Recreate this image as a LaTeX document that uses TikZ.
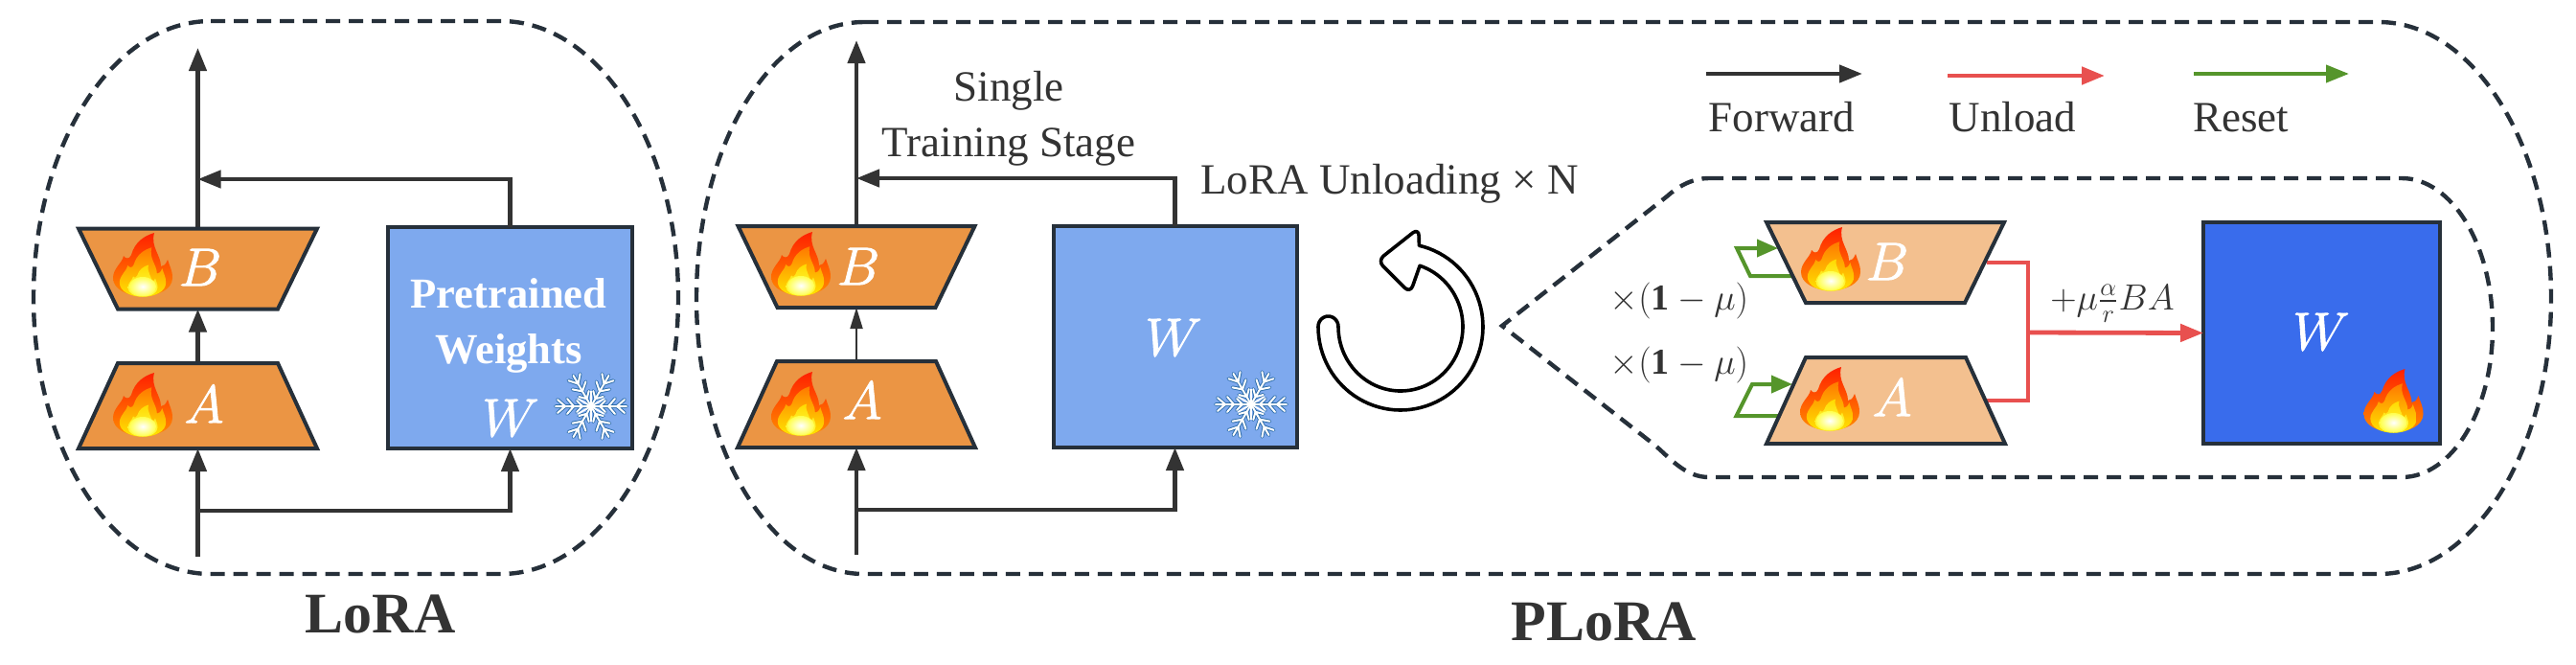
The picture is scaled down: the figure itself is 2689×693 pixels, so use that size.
\RequirePackage{fix-cm}
\documentclass[tikz,border=0pt]{standalone}
\usepackage{amsmath}
\usepackage{fontspec}
\setmainfont{Liberation Serif}
\usetikzlibrary{arrows.meta,calc}
\definecolor{ink}{HTML}{333333}
\definecolor{edge}{HTML}{26303A}
\definecolor{orng}{HTML}{EB9544}
\definecolor{peach}{HTML}{F3C08F}
\definecolor{sky}{HTML}{7EA9EE}
\definecolor{royal}{HTML}{396CEC}
\definecolor{redl}{HTML}{E8504F}
\definecolor{grn}{HTML}{55952B}
\definecolor{flakeb}{HTML}{2A6BA8}
\newcommand{\flamepath}{(12,-33) .. controls (2,-30) and (-8,-24) .. (-12,-10) .. controls (-14,-5) and (-18,-6) .. (-20,-9) .. controls (-21,-2) and (-31,4) .. (-31,14) .. controls (-31,26) and (-16,33) .. (0,33) .. controls (16,33) and (31,26) .. (31,14) .. controls (31,6) and (28,2) .. (26,-5) .. controls (24,0) and (22,2) .. (19,2) .. controls (19,-10) and (8,-18) .. (12,-33) -- cycle}
\newcommand{\trapup}[2]{\path[trap,fill=#2] ([xshift=20.5pt]#1.north west) -- ([xshift=-20.5pt]#1.north east) -- (#1.south east) -- (#1.south west) -- cycle;}
\newcommand{\trapdown}[2]{\path[trap,fill=#2] (#1.north west) -- (#1.north east) -- ([xshift=-20.5pt]#1.south east) -- ([xshift=20.5pt]#1.south west) -- cycle;}
\newcommand{\strk}[1]{\special{pdf:code q 1 1 1 RG 0.45 w 2 Tr}#1\special{pdf:code 0 Tr Q}}
\tikzset{
  px/.style={x=0.5pt,y=-0.5pt},
  anchorbox/.style={rectangle,inner sep=0pt,outer sep=0pt},
  trap/.style={draw=edge,line width=2pt},
  sqbox/.style={rectangle,draw=edge,line width=2pt,inner sep=0pt,outer sep=0pt},
  dashline/.style={draw=edge,line width=2.2pt,dash pattern=on 7.5pt off 4.5pt},
  fw/.style={draw=ink,line width=2.2pt,-{Triangle[length=12pt,width=9pt]}},
  fwthin/.style={draw=ink,line width=0.9pt,-{Triangle[length=11pt,width=6.5pt]}},
  unl/.style={draw=redl,line width=2pt},
  unlarrow/.style={draw=redl,line width=2.4pt,-{Triangle[length=12pt,width=9pt]}},
  rst/.style={draw=grn,line width=2pt,-{Triangle[length=11pt,width=9pt]}},
  lab/.style={font=\fontsize{22.5}{29}\selectfont,text=ink,inner sep=0pt,align=center},
  title/.style={font=\fontsize{30}{36}\selectfont\bfseries,text=ink,inner sep=0pt,anchor=base},
  letter/.style={font=\fontsize{28}{30}\selectfont,text=white,inner sep=0pt},
  mathlab/.style={font=\fontsize{19}{22}\selectfont,text=ink,inner sep=0pt},
  flame/.pic={
    \path[top color=red!75!orange,bottom color=orange!90!yellow] \flamepath;
    \path[shift={(0,8)},scale=.78,top color=orange!95!red,bottom color=yellow!80!orange] \flamepath;
    \path[shift={(0,17)},scale=.5,top color=orange!30!yellow,bottom color=yellow!70!white] \flamepath;
    \path[inner color=white,outer color=yellow!70!white] (0,23) ellipse [x radius=7pt,y radius=5pt];
  },
  flake/.pic={
    \foreach \lw/\col in {1.9pt/flakeb,1.0pt/white}{
      \foreach \a in {0,60,...,300}{
        \begin{scope}[rotate=\a]
          \draw[\col,line width=\lw,line cap=round] (0,0) -- (37,0)
            (9,0) -- (15,-6) (9,0) -- (15,6)
            (18,0) -- (25,-8) (18,0) -- (25,8)
            (27,0) -- (35,-7) (27,0) -- (35,7);
        \end{scope}
      }
    }
    \foreach \a in {30,90,...,330}{
      \draw[white,line width=0.9pt,rotate=\a] (0,0) -- (16,0);
    }
  }
}
\begin{document}
\begin{tikzpicture}[px]
\useasboundingbox (0,0) rectangle (2689,693);

% dashed outlines
\path[dashline] (220,22) -- (523,22) .. controls (625,22) and (708,151.5) .. (708,310.5) .. controls (708,469.5) and (625,599) .. (523,599) -- (220,599) .. controls (118,599) and (35,469.5) .. (35,310.5) .. controls (35,151.5) and (118,22) .. (220,22) -- cycle;
\path[dashline] (902,23) -- (2483,23) .. controls (2582,23) and (2663,152) .. (2663,311) .. controls (2663,470) and (2582,599) .. (2483,599) -- (902,599) .. controls (805,599) and (727,470) .. (727,311) .. controls (727,152) and (805,23) .. (902,23) -- cycle;
\path[dashline] (1784,186) -- (2507,186) .. controls (2559.5,186) and (2602,256) .. (2602,342) .. controls (2602,428) and (2559.5,498) .. (2507,498) -- (1784,498) .. controls (1760,498) and (1745,480) .. (1728,465) -- (1568,340) -- (1740,205) .. controls (1750,196) and (1765,186) .. (1784,186);

% ---------- LoRA ----------
\node[anchorbox,minimum width=124.5pt,minimum height=42pt] (lB) at (206.5,280.5) {};
\node[anchorbox,minimum width=124.5pt,minimum height=44.5pt] (lA) at (206.5,423.5) {};
\node[sqbox,fill=sky,minimum width=127.5pt,minimum height=115.5pt] (lW) at (532.5,352.5) {};
\coordinate (lin) at (206.5,581);
\coordinate (lout) at (206.5,50);
\coordinate (ljoin) at (206.5,187);
\coordinate (lsplit) at (206.5,533);
\draw[fw] (lW.north) |- (ljoin);
\draw[fw] (lsplit) -| (lW.south);
\draw[fw] (lB.north) -- (lout);
\draw[fw] (lA.north) -- (lB.south);
\draw[fw] (lin) -- (lA.south);
\trapdown{lB}{orng}
\trapup{lA}{orng}
\pic at (149,276) {flame};
\pic at (149,422) {flame};
\node[letter] (lBt) at (209,279) {\strk{$B$}};
\node[letter] (lAt) at (213,422) {\strk{$A$}};
\node[lab,font=\fontsize{22.3}{29}\selectfont\bfseries,text=white] (lPW) at (531,340) {Pretrained\\Weights};
\node[letter] (lWt) at (533,436) {\strk{$W$}};
\pic at (617,424) {flake};
\node[title] (lTitle) at (397,660) {LoRA};

% ---------- PLoRA left ----------
\node[anchorbox,minimum width=123.5pt,minimum height=42.5pt] (pB) at (894,278.5) {};
\node[anchorbox,minimum width=124pt,minimum height=45pt] (pA) at (894,422) {};
\node[sqbox,fill=sky,minimum width=127pt,minimum height=115.5pt] (pW) at (1226.5,351.5) {};
\coordinate (pin) at (894,579);
\coordinate (pout) at (894,42);
\coordinate (pjoin) at (894,186);
\coordinate (psplit) at (894,532);
\draw[fw] (pW.north) |- (pjoin);
\draw[fw] (psplit) -| (pW.south);
\draw[fw] (pB.north) -- (pout);
\draw[fwthin] (pA.north) -- (pB.south);
\draw[fw] (pin) -- (pA.south);
\trapdown{pB}{orng}
\trapup{pA}{orng}
\pic at (836,275) {flame};
\pic at (836,421) {flame};
\node[letter] (pBt) at (896,278) {\strk{$B$}};
\node[letter] (pAt) at (900,418) {\strk{$A$}};
\node[letter] (pWt) at (1225,352) {\strk{$W$}};
\pic at (1306,422) {flake};
\node[lab] (single) at (1053,124) {Single\\Training Stage};
\node[lab,anchor=base west] (unloadn) at (1253,202) {LoRA Unloading × N};
\node[title] (pTitle) at (1674,668) {PLoRA};

% circular arrow
\draw[black,line width=1.8pt,line join=round]
  plot[domain=77:-180,samples=70] ({1462+86*cos(\x)},{341-87*sin(\x)})
  -- plot[domain=180:0,samples=16] ({1386.5+10.5*cos(\x)},{341-11*sin(\x)})
  -- plot[domain=-180:72,samples=70] ({1462+65*cos(\x)},{341-67*sin(\x)})
  [rounded corners=4pt] -- (1472,306) -- (1438,272) -- (1481,238) [sharp corners] -- cycle;

% ---------- legend ----------
\coordinate (fa) at (1781,77); \coordinate (fb) at (1944,77);
\coordinate (ua) at (2033,79); \coordinate (ub) at (2197,79);
\coordinate (ra) at (2290,77); \coordinate (rb) at (2452,77);
\draw[fw] (fa) -- (fb);
\draw[unlarrow] (ua) -- (ub);
\draw[rst,-{Triangle[length=12pt,width=9pt]}] (ra) -- (rb);
\node[lab,anchor=base] (fwd) at (1860,137) {Forward};
\node[lab,anchor=base] (unl) at (2101,137) {Unload};
\node[lab,anchor=base] (rset) at (2339,137) {Reset};

% ---------- inner detail ----------
\node[anchorbox,minimum width=124pt,minimum height=42pt] (iB) at (1968,274) {};
\node[anchorbox,minimum width=124.5pt,minimum height=45pt] (iA) at (1968.5,418) {};
\node[sqbox,fill=royal,minimum width=123.5pt,minimum height=115.5pt] (iW) at (2423.5,347.5) {};
\coordinate (rbs) at (2074,274); \coordinate (rbc) at (2117,274);
\coordinate (ras) at (2073,418); \coordinate (rac) at (2117,418);
\coordinate (rj) at (2117,347);
\path[unl,miter limit=10] (rbs) -- (rbc) -- (rac) -- (ras);
\draw[unlarrow] (rj) -- (iW.west);
\coordinate (gb0) at (1870,288); \coordinate (gb1) at (1827,288); \coordinate (gb2) at (1813,259); \coordinate (gb3) at (1856,259);
\coordinate (ga0) at (1857,434); \coordinate (ga1) at (1812.5,434); \coordinate (ga2) at (1829,401); \coordinate (ga3) at (1871,401);
\draw[rst] (gb0) -- (gb1) -- (gb2) -- (gb3);
\draw[rst] (ga0) -- (ga1) -- (ga2) -- (ga3);
\trapdown{iB}{peach}
\trapup{iA}{peach}
\pic at (1911,270) {flame};
\pic at (1910,416) {flame};
\pic at (2498.5,418) {flame};
\node[letter] (iBt) at (1970,273) {\strk{$B$}};
\node[letter] (iAt) at (1975,415) {\strk{$A$}};
\node[letter] (iWt) at (2423,346) {\strk{$W$}};
\node[mathlab] (m1) at (1753,314) {$\times(\mathbf{1}-\mu)$};
\node[mathlab] (m2) at (1753,381) {$\times(\mathbf{1}-\mu)$};
\node[mathlab] (m3) at (2205,317) {$+\mu\frac{\alpha}{r}BA$};
\end{tikzpicture}
\end{document}
